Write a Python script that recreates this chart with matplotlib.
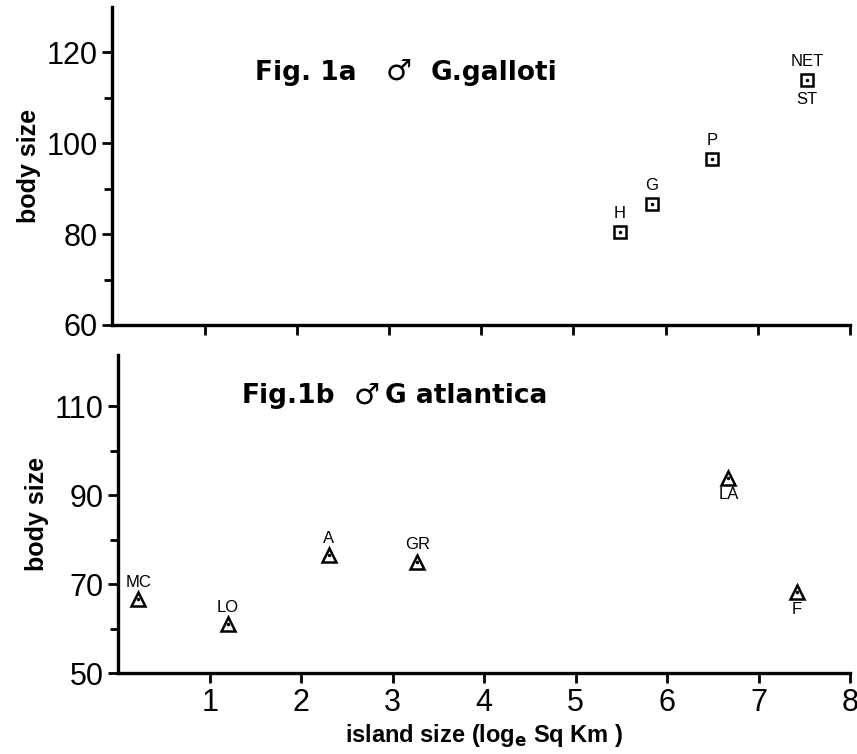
import matplotlib
matplotlib.use("Agg")
import matplotlib.pyplot as plt

plt.rcParams['font.family'] = ['Liberation Sans', 'DejaVu Sans']

# Fig. 1a  G. galloti (males)
galloti_x = [5.50, 5.85, 6.50, 7.53]
galloti_y = [80.4, 86.6, 96.5, 113.8]
galloti_names = ["H", "G", "P", "NET"]

# Fig. 1b  G. atlantica (males)
atl_x = [0.22, 1.20, 2.30, 3.27, 6.67, 7.42]
atl_y = [66.6, 61.0, 76.5, 75.0, 94.0, 68.2]
atl_names = ["MC", "LO", "A", "GR", "LA", "F"]
atl_above = [True, True, True, True, False, False]

xticks = [1, 2, 3, 4, 5, 6, 7, 8]

fig = plt.figure(figsize=(8.57, 7.54), dpi=100)
ax1 = fig.add_axes([0.131, 0.569, 0.861, 0.422])
ax2 = fig.add_axes([0.138, 0.107, 0.854, 0.422])


def style(ax):
    for s in ["top", "right"]:
        ax.spines[s].set_visible(False)
    for s in ["left", "bottom"]:
        ax.spines[s].set_linewidth(2.4)
    ax.tick_params(which="both", direction="out", width=2, colors="black")
    ax.tick_params(which="major", length=7, labelsize=22)
    ax.tick_params(which="minor", length=6)
    ax.set_xlim(0, 8)


def title(ax, y0, xs, parts):
    for x, p in zip(xs, parts):
        big = p == "\u2642"
        ax.text(x, y0, p, transform=ax.transAxes, va="baseline", ha="left",
                family="DejaVu Sans", fontsize=21 if big else 19,
                fontweight="normal" if big else "bold")


style(ax1)
ax1.set_ylim(60, 130)
ax1.set_yticks([60, 80, 100, 120])
ax1.set_yticks([70, 90, 110], minor=True)
ax1.set_xticks(xticks)
ax1.set_xticklabels([])
ax1.plot(galloti_x, galloti_y, ls="none", marker="s", ms=8, mfc="white",
         mec="black", mew=1.8)
ax1.plot(galloti_x, galloti_y, ls="none", marker=".", ms=3, color="black")
for x, y, n in zip(galloti_x, galloti_y, galloti_names):
    ax1.annotate(n, (x, y), xytext=(0, 8), textcoords="offset points",
                 ha="center", va="bottom", fontsize=12)
ax1.annotate("ST", (galloti_x[-1], galloti_y[-1]), xytext=(0, -8),
             textcoords="offset points", ha="center", va="top", fontsize=12)
title(ax1, 0.77, [0.194, 0.370, 0.431], ["Fig. 1a", "\u2642", "G.galloti"])
ax1.set_ylabel("body size", fontsize=18, fontweight="bold", labelpad=4)

style(ax2)
ax2.set_ylim(50, 121.5)
ax2.set_yticks([50, 70, 90, 110])
ax2.set_yticks([60, 80, 100], minor=True)
ax2.set_xticks(xticks)
ax2.plot(atl_x, atl_y, ls="none", marker="^", ms=10, mfc="white",
         mec="black", mew=1.8)
ax2.plot(atl_x, atl_y, ls="none", marker=".", ms=3, color="black")
for x, y, n, up in zip(atl_x, atl_y, atl_names, atl_above):
    if up:
        ax2.annotate(n, (x, y), xytext=(0, 7), textcoords="offset points",
                     ha="center", va="bottom", fontsize=12)
    else:
        ax2.annotate(n, (x, y), xytext=(0, -7), textcoords="offset points",
                     ha="center", va="top", fontsize=12)
title(ax2, 0.849, [0.169, 0.322, 0.365], ["Fig.1b", "\u2642", "G atlantica"])
ax2.set_ylabel("body size", fontsize=18, fontweight="bold", labelpad=4)
ax2.set_xlabel("island size (log$_\\mathbf{e}$ Sq Km )", fontsize=17,
               fontweight="bold", labelpad=3)

fig.savefig("out.png", dpi=100)
